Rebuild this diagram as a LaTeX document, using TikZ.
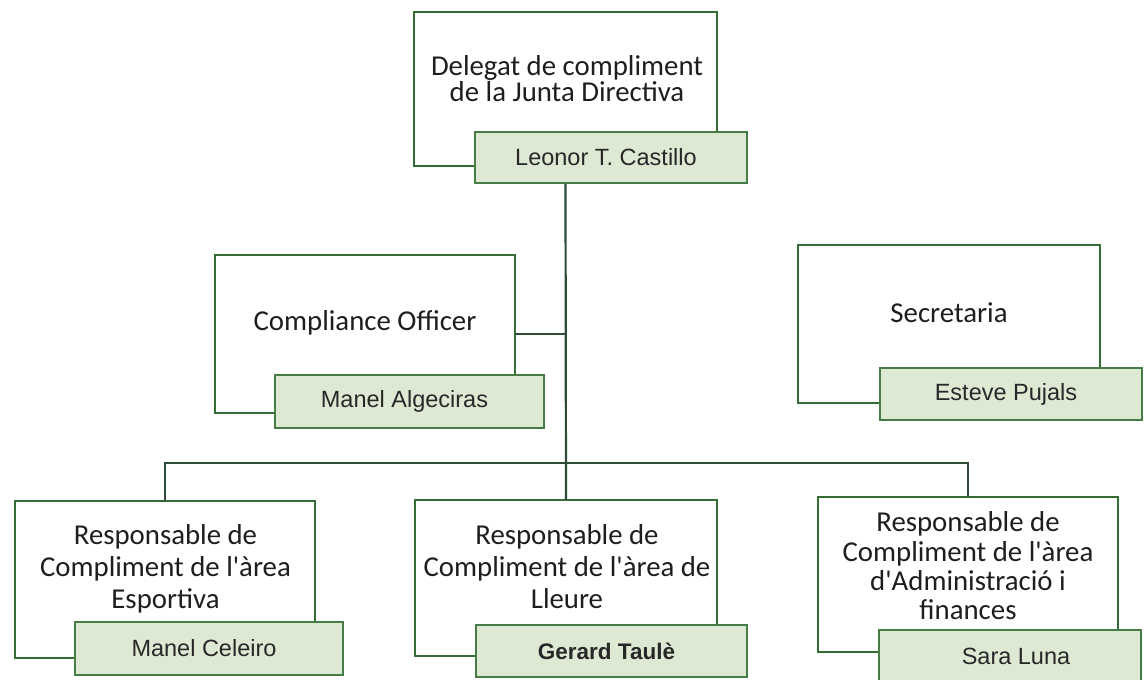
\documentclass[tikz,border=0pt]{standalone}
\usepackage{fontspec}
\setmainfont{Carlito}[Ligatures=TeXOff]
\newfontfamily\arialf{Liberation Sans}
\definecolor{boxgreen}{RGB}{52,110,52}
\definecolor{namegreen}{RGB}{70,125,70}
\definecolor{namefill}{RGB}{222,233,212}
\definecolor{linecol}{RGB}{45,75,55}
\definecolor{txtcol}{RGB}{30,30,30}
\definecolor{nametxt}{RGB}{40,40,40}
\begin{document}
\begin{tikzpicture}[x=1pt,y=-1pt,
  titlebox/.style={draw=boxgreen, line width=2.8pt, fill=white, inner sep=0pt, outer sep=0pt},
  namebox/.style={draw=namegreen, line width=2.2pt, fill=namefill, inner sep=0pt, outer sep=0pt,
     text=nametxt, font=\arialf\fontsize{23.5}{26}\selectfont},
  leftshift/.style={execute at begin node=\hspace*{-10pt}},
  titletext/.style={text=txtcol, align=center, inner sep=0pt, font=\fontsize{28.8}{26}\selectfont},
  conn/.style={draw=linecol, line width=2.2pt}]
\useasboundingbox (0,0) rectangle (1144,680);
\fill[white] (0,0) rectangle (1144,680);

% boxes
\node[titlebox, minimum width=303pt, minimum height=154pt] (b1) at (565.5,89) {};
\node[titlebox, minimum width=300pt, minimum height=158pt] (b2) at (365,334) {};
\node[titlebox, minimum width=302pt, minimum height=158pt] (b3) at (949,324) {};
\node[titlebox, minimum width=300pt, minimum height=157pt] (b5) at (165,579.5) {};
\node[titlebox, minimum width=302pt, minimum height=156pt] (b6) at (566,578) {};
\node[titlebox, minimum width=300pt, minimum height=155pt] (b7) at (968,574.5) {};

% connectors
\coordinate (j) at (566,463);
\draw[conn] (b1.south |- 0,183) -- (b6.north);
\draw[conn] (b2.east) -- (b2.east -| b1.south);
\draw[conn] (b5.north) |- (j) -| (b7.north);

% titles
\node[titletext] (t1) at (567,79) {Delegat de compliment\\de la Junta Directiva};
\node[titletext, anchor=base] (t2) at (365,330) {Compliance Officer};
\node[titletext, anchor=base] (t3) at (949,322) {Secretaria};
\node[titletext, font=\fontsize{28.8}{32}\selectfont] (t5) at (165.5,569) {Responsable de\\Compliment de l'àrea\\Esportiva};
\node[titletext, font=\fontsize{28.8}{32}\selectfont] (t6) at (567,567) {Responsable de\\Compliment de l'àrea de\\Lleure};
\node[titletext, font=\fontsize{28.8}{29.3}\selectfont] (t7) at (968,566) {Responsable de\\Compliment de l'àrea\\d'Administració i\\finances};

% names
\node[namebox, leftshift, minimum width=272pt, minimum height=51pt] (n1) at (611,157.5) {Leonor T. Castillo};
\node[namebox, leftshift, minimum width=269pt, minimum height=53pt] (n2) at (409.5,401.5) {Manel Algeciras};
\node[namebox, leftshift, minimum width=262pt, minimum height=52pt] (n3) at (1011,394) {Esteve Pujals};
\node[namebox, leftshift, minimum width=268pt, minimum height=53pt] (n5) at (209,648.5) {Manel Celeiro};
\node[namebox, leftshift, minimum width=271pt, minimum height=52pt, font=\arialf\bfseries\fontsize{22.5}{26}\selectfont] (n6) at (611.5,651) {Gerard Taulè};
\node[namebox, minimum width=262pt, minimum height=60pt] (n7) at (1010,660) {\hspace*{12pt}\raisebox{8pt}{Sara Luna}};
\end{tikzpicture}
\end{document}
